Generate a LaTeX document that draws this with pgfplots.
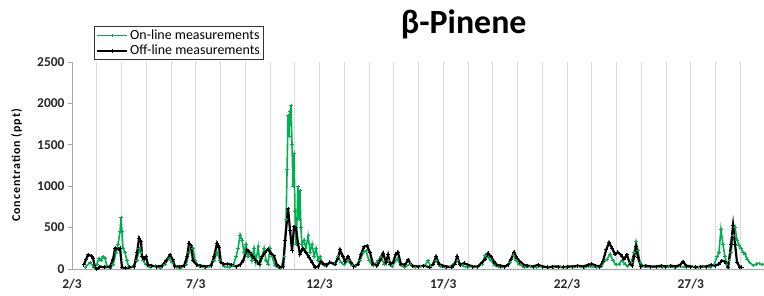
\documentclass[border=0pt]{standalone}
\usepackage{pgfplots}
\pgfplotsset{compat=1.18}
\usepackage{pgfplotstable}
\usepackage{fontspec}
\setmainfont{Carlito}
\newfontfamily\spaced[LetterSpace=8]{Carlito}
\definecolor{onl}{RGB}{0,176,80}
\definecolor{gridc}{RGB}{217,217,217}
\definecolor{axc}{RGB}{166,166,166}

\pgfplotstableread{
x y
2.53 20
2.73 80
2.89 20
3.01 60
3.09 130
3.17 100
3.25 150
3.33 130
3.41 40
3.54 10
3.66 50
3.78 200
3.86 300
3.94 450
3.98 620
4.02 450
4.06 250
4.14 200
4.22 100
4.30 20
4.46 30
4.63 100
4.71 250
4.79 200
4.87 100
4.99 50
5.15 20
5.35 40
5.56 10
5.76 60
5.92 130
6.04 80
6.20 20
6.40 10
6.61 50
6.73 200
6.81 270
6.89 250
6.97 100
7.13 30
7.33 20
7.54 30
7.74 100
7.86 200
7.98 100
8.14 30
8.34 20
8.51 40
8.63 150
8.71 250
8.79 410
8.87 350
8.95 200
9.03 300
9.11 150
9.19 200
9.27 100
9.35 250
9.43 80
9.52 270
9.60 50
9.68 150
9.76 250
9.84 100
9.92 60
10.00 250
10.08 150
10.20 40
10.32 20
10.44 10
10.57 150
10.65 600
10.69 1200
10.73 1850
10.77 1600
10.81 1900
10.85 1970
10.89 1500
10.93 1000
10.97 1400
11.01 700
11.05 300
11.09 600
11.13 1000
11.17 600
11.21 950
11.25 500
11.29 300
11.37 350
11.45 250
11.54 400
11.62 200
11.70 300
11.78 150
11.86 250
11.94 100
12.02 150
12.14 50
12.26 30
12.42 80
12.59 50
12.75 150
12.87 80
12.99 50
13.15 100
13.31 40
13.47 30
13.64 100
13.76 200
13.88 220
14.00 100
14.16 40
14.36 100
14.48 150
14.61 60
14.77 100
14.93 30
15.13 120
15.29 40
15.45 20
15.66 60
15.86 20
16.06 30
16.26 40
16.38 100
16.50 30
16.71 100
16.87 30
17.07 20
17.27 30
17.56 100
17.76 40
17.96 20
18.16 30
18.36 20
18.57 60
18.69 170
18.81 140
18.93 100
19.09 40
19.29 20
19.49 20
19.70 80
19.82 170
19.94 100
20.06 60
20.26 20
20.51 30
20.75 20
20.99 30
21.23 20
21.47 20
21.72 30
21.96 20
22.20 20
22.44 30
22.69 20
22.93 30
23.17 20
23.37 30
23.49 80
23.62 120
23.74 180
23.86 100
23.98 50
24.10 60
24.22 100
24.34 60
24.46 30
24.59 80
24.71 200
24.79 330
24.87 220
24.95 80
25.11 30
25.35 20
25.60 30
25.84 20
26.08 30
26.32 20
26.57 30
26.81 20
27.05 30
27.29 20
27.54 30
27.78 20
27.94 50
28.06 150
28.14 200
28.22 480
28.30 300
28.38 150
28.46 50
28.55 100
28.63 200
28.71 400
28.79 500
28.87 350
28.95 280
29.03 250
29.11 200
29.19 180
29.27 120
29.39 80
29.52 40
29.64 60
29.76 70
29.88 50
29.96 60
}\online

\pgfplotstableread{
x y
2.48 50
2.57 120
2.65 170
2.77 160
2.85 130
2.93 20
3.01 0
3.13 30
3.33 20
3.54 30
3.66 120
3.74 250
3.86 240
3.94 250
4.02 20
4.18 10
4.34 20
4.51 30
4.63 200
4.71 370
4.79 330
4.83 150
4.91 120
4.99 150
5.07 50
5.23 40
5.43 30
5.64 40
5.80 100
5.96 170
6.08 110
6.16 30
6.36 30
6.53 40
6.65 150
6.73 310
6.81 280
6.89 100
7.05 50
7.21 40
7.41 30
7.62 40
7.74 150
7.86 310
7.94 260
8.02 80
8.14 60
8.30 60
8.46 50
8.63 30
8.79 50
8.91 100
9.07 230
9.19 200
9.31 150
9.43 100
9.56 60
9.68 150
9.80 200
9.92 240
10.04 190
10.16 160
10.28 50
10.40 20
10.53 30
10.61 340
10.73 730
10.81 470
10.89 220
10.97 510
11.05 500
11.13 310
11.21 180
11.33 250
11.45 200
11.58 140
11.70 80
11.82 20
11.94 30
12.06 90
12.18 60
12.30 50
12.42 80
12.63 60
12.75 130
12.83 230
12.95 150
13.03 90
13.15 150
13.27 80
13.39 30
13.56 60
13.68 180
13.80 270
13.92 280
14.04 200
14.16 60
14.32 40
14.44 100
14.57 190
14.69 80
14.77 170
14.85 60
14.97 80
15.09 180
15.17 200
15.29 60
15.45 50
15.58 110
15.74 40
15.98 30
16.22 40
16.46 20
16.59 60
16.71 150
16.83 60
16.99 40
17.15 30
17.35 20
17.47 60
17.56 150
17.68 50
17.84 70
18.00 50
18.20 30
18.40 30
18.57 80
18.69 120
18.81 190
18.93 150
19.05 90
19.17 50
19.33 40
19.49 30
19.62 50
19.74 120
19.86 200
19.98 130
20.10 90
20.26 50
20.42 40
20.63 30
20.83 50
21.03 30
21.23 20
21.43 30
21.64 30
21.84 20
22.04 30
22.24 30
22.44 40
22.65 30
22.85 50
23.01 60
23.17 40
23.33 30
23.45 90
23.58 230
23.70 320
23.82 250
23.94 180
24.06 200
24.18 170
24.30 120
24.42 170
24.55 60
24.63 40
24.71 150
24.79 270
24.87 140
24.99 30
25.19 40
25.39 30
25.60 30
25.80 40
26.00 30
26.20 40
26.40 30
26.57 50
26.69 90
26.81 40
27.01 30
27.21 20
27.41 30
27.62 30
27.82 50
27.98 40
28.14 60
28.26 100
28.38 90
28.51 20
28.63 300
28.71 530
28.79 300
28.87 80
28.99 20
29.07 20
}\offline

\begin{document}
\begin{tikzpicture}
\path[use as bounding box] (-72bp,-27bp) rectangle (692bp,269bp);
\begin{axis}[
  at={(0,0)}, anchor=south west,
  scale only axis, width=692bp, height=207bp,
  xmin=2, xmax=29.96, ymin=0, ymax=2500,
  axis x line*=bottom, axis y line*=left,
  axis line style={axc, line width=0.8bp},
  xtick={2,7,12,17,22,27},
  xticklabels={2/3,7/3,12/3,17/3,22/3,27/3},
  minor xtick={3,4,5,6,8,9,10,11,13,14,15,16,18,19,20,21,23,24,25,26,28,29},
  xmajorgrids, xminorgrids,
  major grid style={gridc, line width=0.9bp},
  minor grid style={gridc, line width=0.9bp},
  ytick={0,500,1000,1500,2000,2500},
  tick align=outside,
  xtick style={draw=none}, minor tick length=0pt,
  ytick style={axc, line width=0.8bp}, major tick length=4bp,
  /pgf/number format/assume math mode=true,
  /pgf/number format/1000 sep={},
  tick label style={font=\fontsize{13.5}{15}\selectfont\bfseries, text=black!85},
  xticklabel style={yshift=-3bp},
  ylabel={Concentration (ppt)},
  ylabel style={font=\spaced\fontsize{12}{14}\selectfont\bfseries, at={(axis description cs:-0.08,0.5)}, anchor=center},
  title={β-Pinene},
  title style={font=\fontsize{34}{38}\selectfont\bfseries, at={(axis description cs:0.566,1.155)}, anchor=center},
  legend style={at={(axis description cs:0.032,1.174)}, anchor=north west,
    draw=black!80, line width=0.8bp, fill=white, font=\fontsize{14}{16.5}\selectfont,
    inner sep=1.5bp, row sep=0bp},
  legend cell align=left,
  legend image code/.code={\draw[mark repeat=2,mark phase=2] plot coordinates {(0bp,0bp) (15bp,0bp) (30bp,0bp)};},
  clip=true,
]
\addplot[onl, line width=1.6bp, mark=+, mark size=1.6bp, mark options={line width=0.8bp}] table[x=x,y=y] {\online};
\addlegendentry{On-line measurements}
\addplot[black, line width=2.2bp, mark=+, mark size=2bp, mark options={line width=1bp}] table[x=x,y=y] {\offline};
\addlegendentry{Off-line measurements}
\end{axis}
\end{tikzpicture}
\end{document}
